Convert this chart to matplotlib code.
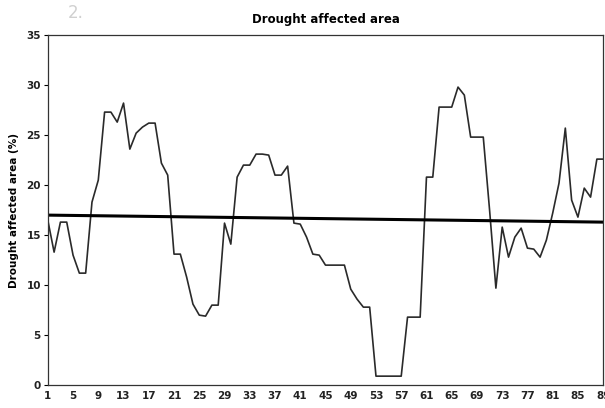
import numpy as np
import matplotlib
matplotlib.use("Agg")
import matplotlib.pyplot as plt

plt.rcParams["font.family"] = ["DejaVu Sans"]

# years 1..89, drought affected area (%)
years = list(range(1, 90))
area = [16.5, 13.3, 16.3, 16.3, 13.0, 11.2, 11.2, 18.3, 20.5, 27.3,
        27.3, 26.3, 28.2, 23.6, 25.2, 25.8, 26.2, 26.2, 22.2, 21.0,
        13.1, 13.1, 10.8, 8.1, 7.0, 6.9, 8.0, 8.0, 16.2, 14.1,
        20.8, 22.0, 22.0, 23.1, 23.1, 23.0, 21.0, 21.0, 21.9, 16.2,
        16.1, 14.8, 13.1, 13.0, 12.0, 12.0, 12.0, 12.0, 9.6, 8.6,
        7.8, 7.8, 0.9, 0.9, 0.9, 0.9, 0.9, 6.8, 6.8, 6.8,
        20.8, 20.8, 27.8, 27.8, 27.8, 29.8, 29.0, 24.8, 24.8, 24.8,
        17.5, 9.7, 15.8, 12.8, 14.8, 15.7, 13.7, 13.6, 12.8, 14.5,
        17.2, 20.2, 25.7, 18.5, 16.8, 19.7, 18.8, 22.6, 22.6]

# straight reference line across the chart (start, end)
ref_line = [17.0, 16.3]

fig = plt.figure(figsize=(6.05, 4.08), dpi=100)
ax = fig.add_axes([0.079, 0.056, 0.918, 0.858])

ax.plot(years, area, color="#2a2a2a", linewidth=1.2)
ax.plot([years[0], years[-1]], ref_line, color="black", linewidth=2.2)

ax.set_xlim(1, 89)
ax.set_ylim(0, 35)
ax.set_yticks(range(0, 36, 5))
ax.set_xticks(years[::4])
ax.tick_params(axis="both", labelsize=7.5, length=3, width=0.8, pad=2)
ax.tick_params(axis="x", length=0, pad=4)
for lbl in ax.get_xticklabels() + ax.get_yticklabels():
    lbl.set_fontweight("bold")
    lbl.set_color("#222222")

for s in ax.spines.values():
    s.set_linewidth(0.9)
    s.set_color("#333333")

ax.set_ylabel("Drought affected area (%)", fontsize=7.5, fontweight="bold",
              labelpad=5)
ax.set_title("Drought affected area", fontsize=8.5, fontweight="bold", pad=9)
fig.text(0.112, 0.968, "2.", fontsize=12, color="#d0d0d0", ha="left", va="center")

fig.savefig("out.png", dpi=100)
